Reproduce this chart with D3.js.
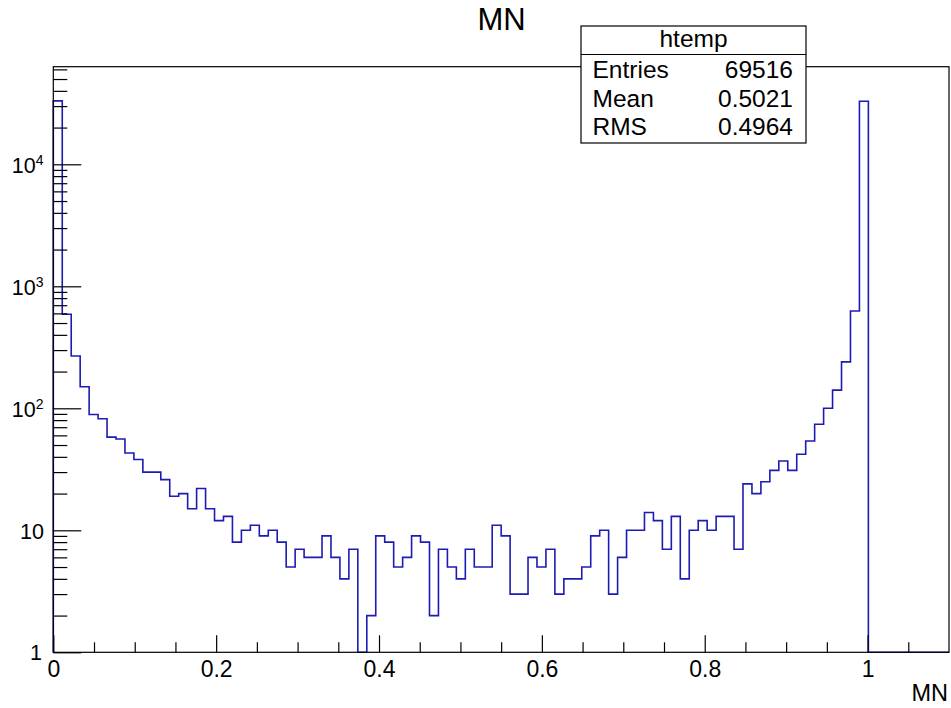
<!DOCTYPE html>
<html>
<head>
<meta charset="utf-8">
<script src="https://cdn.jsdelivr.net/npm/d3@7"></script>
<style>
  body { margin: 0; background: #fff; }
  text { font-family: "Liberation Sans", Arial, Helvetica, sans-serif; fill: #000; }
</style>
</head>
<body>
<script>
// histogram "htemp" of MN: 100 bins on [0, 1.1]
const xRange = [0, 1.1];
const nBins = 100;
const counts = [
  33100, 590, 268, 150, 89, 82, 58, 56, 43, 38,
  30, 30, 26, 19, 20, 15, 22, 15, 12, 13,
  8, 10, 11, 9, 10, 8, 5, 7, 6, 6,
  9, 6, 4, 7, 0, 2, 9, 8, 5, 6,
  9, 8, 2, 7, 5, 4, 7, 5, 5, 11,
  9, 3, 3, 6, 5, 7, 3, 4, 4, 5,
  9, 10, 3, 6, 10, 10, 14, 12, 7, 13,
  4, 10, 12, 10, 13, 13, 7, 24, 20, 25,
  31, 37, 31, 42, 54, 74, 100, 141, 240, 628,
  32900, 0, 0, 0, 0, 0, 0, 0, 0, 0
];
const yRange = [1, 63100];

const xMajor = [0, 0.2, 0.4, 0.6, 0.8, 1];
const xMinor = [0.05, 0.1, 0.15, 0.25, 0.3, 0.35, 0.45, 0.5, 0.55, 0.65, 0.7, 0.75, 0.85, 0.9, 0.95, 1.05];
const yMajor = [1, 10, 100, 1000, 10000];
const yMajorLabels = [["1", ""], ["10", ""], ["10", "2"], ["10", "3"], ["10", "4"]];
const yMinor = [2, 3, 4, 5, 6, 7, 8, 9, 20, 30, 40, 50, 60, 70, 80, 90,
  200, 300, 400, 500, 600, 700, 800, 900, 2000, 3000, 4000, 5000, 6000, 7000, 8000, 9000,
  20000, 30000, 40000, 50000, 60000];

const title = "MN";
const xTitle = "MN";
const statName = "htemp";
const statLabels = ["Entries", "Mean", "RMS"];
const statValues = ["69516", "0.5021", "0.4964"];

const W = 951, H = 708;
const frame = { left: 53.3, right: 949, top: 66.7, bottom: 652.3 };

const svg = d3.select("body").append("svg")
  .attr("width", W)
  .attr("height", H);

const x = d3.scaleLinear().domain(xRange).range([frame.left, frame.right]);
const y = d3.scaleLog().domain(yRange).range([frame.bottom, frame.top]);

// histogram outline
const binW = (xRange[1] - xRange[0]) / nBins;
const pts = [[xRange[0], yRange[0]]];
counts.forEach((c, i) => {
  let v = Math.max(c, yRange[0]);
  pts.push([xRange[0] + i * binW, v]);
  pts.push([xRange[0] + (i + 1) * binW, v]);
});
pts.push([xRange[1], yRange[0]]);

const line = d3.line()
  .x(d => x(d[0]))
  .y(d => y(d[1]));

svg.append("path")
  .datum(pts)
  .attr("d", line)
  .attr("fill", "none")
  .attr("stroke", "#1c1cb4")
  .attr("stroke-width", 1.6);

// frame
svg.append("rect")
  .attr("x", frame.left)
  .attr("y", frame.top)
  .attr("width", frame.right - frame.left)
  .attr("height", frame.bottom - frame.top)
  .attr("fill", "none")
  .attr("stroke", "#000")
  .attr("stroke-width", 1.2);

// x axis ticks
let gx = svg.append("g").attr("transform", `translate(0,${frame.bottom})`);
gx.call(d3.axisBottom(x).tickValues(xMajor).tickSize(-17).tickFormat(d3.format("")));
gx.append("g").call(d3.axisBottom(x).tickValues(xMinor).tickSize(-10).tickFormat(""));
gx.selectAll(".domain").remove();
gx.selectAll("line").attr("stroke", "#000").attr("stroke-width", 1.2);
gx.selectAll("text")
  .attr("y", 25)
  .attr("dy", null)
  .style("font-size", "23px")
  .style("font-family", "'Liberation Sans', Arial, sans-serif")
  .attr("fill", "#000");

// y axis ticks
let gy = svg.append("g").attr("transform", `translate(${frame.left},0)`);
gy.call(d3.axisLeft(y).tickValues(yMajor).tickSize(-28).tickFormat(""));
gy.append("g").call(d3.axisLeft(y).tickValues(yMinor).tickSize(-14).tickFormat(""));
gy.selectAll(".domain").remove();
gy.selectAll("line").attr("stroke", "#000").attr("stroke-width", 1.2);

let ylab = svg.append("g").selectAll("text")
  .data(yMajor)
  .enter()
  .append("text")
  .attr("text-anchor", "end")
  .attr("x", (d, i) => yMajorLabels[i][1] ? 43.5 : (i == 0 ? 42 : 44))
  .attr("y", d => y(d) + (d == 1 ? 8 : 8.5))
  .style("font-size", "21.5px");

ylab.append("tspan").text((d, i) => yMajorLabels[i][0]);
ylab.append("tspan")
  .attr("dy", -8)
  .style("font-size", "14px")
  .text((d, i) => yMajorLabels[i][1]);

// titles
svg.append("text")
  .attr("x", 501.5)
  .attr("y", 30)
  .attr("text-anchor", "middle")
  .style("font-size", "31px")
  .text(title);

svg.append("text")
  .attr("x", 948)
  .attr("y", 701)
  .attr("text-anchor", "end")
  .style("font-size", "23.5px")
  .text(xTitle);

// stats box
const box = { x: 581, y: 26, w: 225, h: 117, head: 28.5 };
let sb = svg.append("g");
sb.append("rect")
  .attr("x", box.x).attr("y", box.y)
  .attr("width", box.w).attr("height", box.h)
  .attr("fill", "#fff")
  .attr("stroke", "#000")
  .attr("stroke-width", 1.2);
sb.append("line")
  .attr("x1", box.x).attr("x2", box.x + box.w)
  .attr("y1", box.y + box.head).attr("y2", box.y + box.head)
  .attr("stroke", "#000")
  .attr("stroke-width", 1.2);
sb.append("text")
  .attr("x", box.x + box.w / 2)
  .attr("y", 47)
  .attr("text-anchor", "middle")
  .style("font-size", "24.5px")
  .text(statName);

const rowY = [78, 106.5, 135];
sb.selectAll(".lab")
  .data(statLabels)
  .enter()
  .append("text")
  .attr("x", 592.5)
  .attr("y", (d, i) => rowY[i])
  .style("font-size", "24.5px")
  .text(d => d);
sb.selectAll(".val")
  .data(statValues)
  .enter()
  .append("text")
  .attr("x", 793)
  .attr("y", (d, i) => rowY[i])
  .attr("text-anchor", "end")
  .style("font-size", "24.5px")
  .text(d => d);
</script>
</body>
</html>
